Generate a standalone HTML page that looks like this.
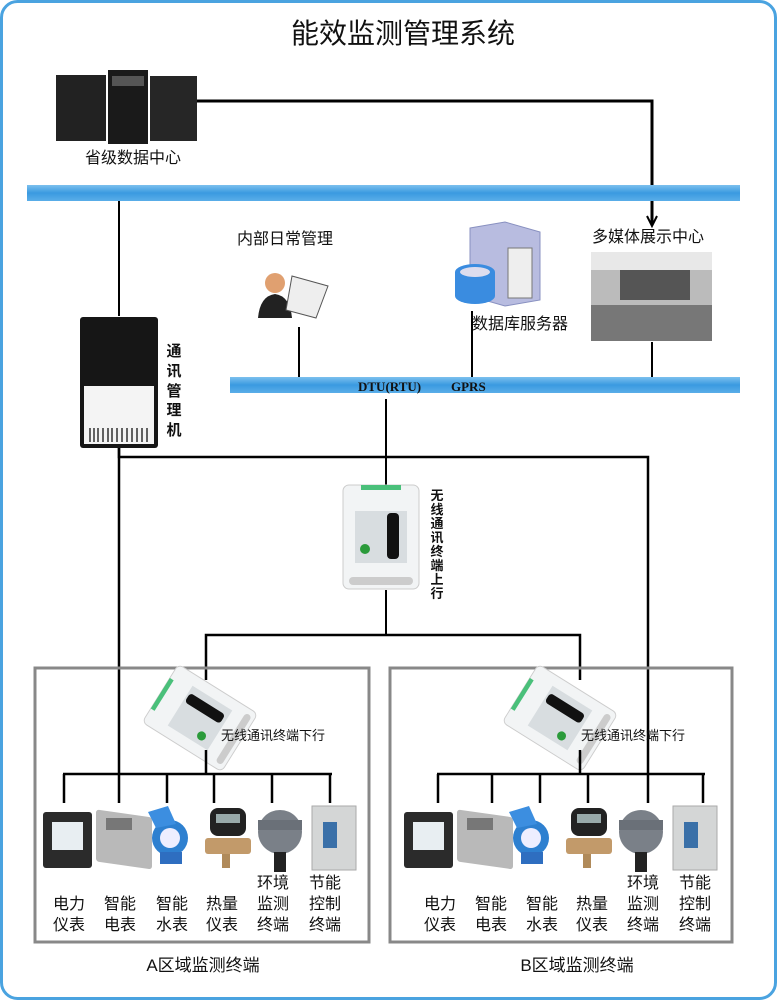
<!DOCTYPE html>
<html><head><meta charset="utf-8"><style>
html,body{margin:0;padding:0;background:#fff;}
svg{display:block;}
text{font-family:"Liberation Sans","Noto Sans CJK SC",sans-serif;fill:#111;}
</style></head><body>
<svg width="777" height="1000" viewBox="0 0 777 1000" xmlns="http://www.w3.org/2000/svg">
<defs>
<linearGradient id="bar" x1="0" y1="0" x2="0" y2="1">
<stop offset="0" stop-color="#7cc0ee"/><stop offset="0.5" stop-color="#3a9ae0"/><stop offset="1" stop-color="#5aaee8"/></linearGradient>
<g id="meters">
 <rect x="43" y="812" width="49" height="56" rx="3" fill="#2b2b2b"/>
 <rect x="52" y="822" width="31" height="28" fill="#e8eef2"/>
 <rect x="96" y="812" width="56" height="52" rx="3" fill="#b9b9b9" transform="skewY(8) translate(0,-16)"/>
 <rect x="106" y="818" width="26" height="12" fill="#777"/>
 <circle cx="170" cy="838" r="18" fill="#2e80d0"/>
 <circle cx="170" cy="838" r="10" fill="#eef"/>
 <path d="M148,812 L168,806 L176,824 L156,828Z" fill="#3c8ee0"/>
 <rect x="160" y="852" width="22" height="12" fill="#2e6ec0"/>
 <rect x="210" y="808" width="36" height="28" rx="8" fill="#222"/>
 <rect x="216" y="814" width="24" height="9" fill="#9aa"/>
 <rect x="205" y="838" width="46" height="16" rx="3" fill="#c29a6a"/>
 <rect x="222" y="854" width="8" height="14" fill="#b08a5a"/>
 <circle cx="280" cy="832" r="22" fill="#7a8088"/>
 <rect x="258" y="820" width="44" height="10" fill="#6a7078"/>
 <rect x="274" y="852" width="12" height="20" fill="#222"/>
 <rect x="312" y="806" width="44" height="64" fill="#d4d6d6" stroke="#aaa"/>
 <rect x="323" y="822" width="14" height="26" fill="#3a70a8"/>
</g>
<g id="dev">
 <rect x="-38" y="-52" width="76" height="104" rx="6" fill="#f2f4f5" stroke="#ccc"/>
 <rect x="-26" y="-26" width="52" height="52" fill="#d8dde0"/>
 <rect x="6" y="-24" width="12" height="46" rx="4" fill="#111"/>
 <rect x="-20" y="-52" width="40" height="5" fill="#4ac07a"/>
 <circle cx="-16" cy="12" r="5" fill="#2a9a3a"/>
 <rect x="-32" y="40" width="64" height="8" rx="4" fill="#ccc"/>
</g>
</defs>
<rect x="1.5" y="1.5" width="774" height="997" rx="16" fill="#fff" stroke="#4aa3e0" stroke-width="3"/>
<text x="403" y="43" font-size="28" text-anchor="middle">能效监测管理系统</text>

<!-- servers -->
<rect x="56" y="75" width="50" height="66" fill="#222"/>
<rect x="150" y="76" width="47" height="65" fill="#262626"/>
<rect x="108" y="70" width="40" height="74" fill="#1a1a1a"/>
<rect x="112" y="76" width="32" height="10" fill="#555"/>
<text x="133" y="163" font-size="16" text-anchor="middle">省级数据中心</text>
<polyline points="197,101 652,101 652,224" fill="none" stroke="#000" stroke-width="3"/>
<polyline points="647,216 652,226 657,216" fill="none" stroke="#000" stroke-width="2"/>

<rect x="27" y="185" width="713" height="16" fill="url(#bar)"/>
<line x1="119" y1="201" x2="119" y2="316" stroke="#000" stroke-width="2"/>

<!-- comm manager -->
<rect x="80" y="317" width="78" height="131" rx="3" fill="#161616"/>
<rect x="84" y="386" width="70" height="58" fill="#f4f4f4"/>
<g stroke="#000" stroke-width="1.2">
<line x1="90" y1="428" x2="90" y2="442"/><line x1="94" y1="428" x2="94" y2="442"/><line x1="98" y1="428" x2="98" y2="442"/><line x1="103" y1="428" x2="103" y2="442"/><line x1="108" y1="428" x2="108" y2="442"/><line x1="112" y1="428" x2="112" y2="442"/><line x1="117" y1="428" x2="117" y2="442"/><line x1="122" y1="428" x2="122" y2="442"/><line x1="127" y1="428" x2="127" y2="442"/><line x1="132" y1="428" x2="132" y2="442"/><line x1="137" y1="428" x2="137" y2="442"/><line x1="142" y1="428" x2="142" y2="442"/><line x1="147" y1="428" x2="147" y2="442"/></g>
<g font-size="15" text-anchor="middle" font-weight="bold"><text x="174" y="356">通</text><text x="174" y="376">讯</text><text x="174" y="396">管</text><text x="174" y="415">理</text><text x="174" y="435">机</text></g>

<text x="285" y="244" font-size="16" text-anchor="middle">内部日常管理</text>
<circle cx="275" cy="283" r="10" fill="#e0a070"/>
<path d="M258,318 Q260,296 275,294 Q290,296 292,318Z" fill="#222"/>
<path d="M292,276 L328,286 L316,318 L286,310Z" fill="#eee" stroke="#555"/>
<line x1="299" y1="327" x2="299" y2="378" stroke="#000" stroke-width="2"/>

<path d="M470,228 L505,222 L540,232 L540,300 L505,306 L470,296Z" fill="#b8bce0" stroke="#8890c0"/>
<rect x="508" y="248" width="24" height="50" fill="#eee" stroke="#777"/>
<ellipse cx="475" cy="272" rx="20" ry="8" fill="#3a8ce0"/>
<rect x="455" y="272" width="40" height="24" fill="#3a8ce0"/>
<ellipse cx="475" cy="296" rx="20" ry="8" fill="#3a8ce0"/>
<ellipse cx="475" cy="272" rx="15" ry="5" fill="#dde"/>
<text x="520" y="329" font-size="16" text-anchor="middle">数据库服务器</text>
<line x1="472" y1="311" x2="472" y2="378" stroke="#000" stroke-width="2"/>

<text x="648" y="242" font-size="16" text-anchor="middle">多媒体展示中心</text>
<rect x="591" y="252" width="121" height="89" fill="#bbb"/>
<rect x="591" y="252" width="121" height="18" fill="#e8e8e8"/>
<rect x="620" y="270" width="70" height="30" fill="#555"/>
<rect x="591" y="305" width="121" height="36" fill="#777"/>
<line x1="652" y1="342" x2="652" y2="378" stroke="#000" stroke-width="2"/>

<rect x="230" y="377" width="510" height="16" fill="url(#bar)"/>
<text x="358" y="391" font-size="13" font-weight="bold" style="font-family:'Liberation Serif',serif">DTU(RTU)</text>
<text x="451" y="391" font-size="13" font-weight="bold" style="font-family:'Liberation Serif',serif">GPRS</text>

<line x1="386" y1="399" x2="386" y2="486" stroke="#000" stroke-width="2"/>
<polyline points="119,448 119,457 648,457 648,803" fill="none" stroke="#000" stroke-width="2.5"/>
<line x1="119" y1="448" x2="119" y2="803" stroke="#000" stroke-width="2.5"/>

<use href="#dev" transform="translate(381,537)"/>
<g font-size="13" text-anchor="middle" font-weight="bold"><text x="437" y="500">无</text><text x="437" y="514">线</text><text x="437" y="528">通</text><text x="437" y="542">讯</text><text x="437" y="556">终</text><text x="437" y="570">端</text><text x="437" y="584">上</text><text x="437" y="598">行</text></g>
<line x1="386" y1="590" x2="386" y2="635" stroke="#000" stroke-width="2"/>
<polyline points="206,680 206,635 580,635 580,680" fill="none" stroke="#000" stroke-width="2.5"/>

<rect x="35" y="668" width="334" height="274" fill="none" stroke="#888" stroke-width="3"/>
<rect x="390" y="668" width="342" height="274" fill="none" stroke="#888" stroke-width="3"/>

<!-- A -->
<use href="#dev" transform="translate(200,718) rotate(-58) scale(0.9)"/>
<text x="273" y="740" font-size="13" text-anchor="middle">无线通讯终端下行</text>
<line x1="206" y1="750" x2="206" y2="774" stroke="#000" stroke-width="2.5"/>
<g stroke="#000" stroke-width="2.5" fill="none"><line x1="63" y1="774" x2="332" y2="774"/>
<line x1="64" y1="774" x2="64" y2="803"/><line x1="167" y1="774" x2="167" y2="803"/><line x1="214" y1="774" x2="214" y2="803"/><line x1="272" y1="774" x2="272" y2="803"/><line x1="330" y1="774" x2="330" y2="803"/></g>
<use href="#meters"/>
<!-- B -->
<use href="#dev" transform="translate(560,718) rotate(-58) scale(0.9)"/>
<text x="633" y="740" font-size="13" text-anchor="middle">无线通讯终端下行</text>
<line x1="580" y1="750" x2="580" y2="774" stroke="#000" stroke-width="2.5"/>
<g stroke="#000" stroke-width="2.5" fill="none"><line x1="437" y1="774" x2="705" y2="774"/>
<line x1="438" y1="774" x2="438" y2="803"/><line x1="492" y1="774" x2="492" y2="803"/><line x1="540" y1="774" x2="540" y2="803"/><line x1="588" y1="774" x2="588" y2="803"/><line x1="703" y1="774" x2="703" y2="803"/></g>
<use href="#meters" transform="translate(361,0)"/>

<g font-size="16" text-anchor="middle">
<text x="69" y="909">电力</text><text x="69" y="930">仪表</text>
<text x="120" y="909">智能</text><text x="120" y="930">电表</text>
<text x="172" y="909">智能</text><text x="172" y="930">水表</text>
<text x="222" y="909">热量</text><text x="222" y="930">仪表</text>
<text x="273" y="888">环境</text><text x="273" y="909">监测</text><text x="273" y="930">终端</text>
<text x="325" y="888">节能</text><text x="325" y="909">控制</text><text x="325" y="930">终端</text>
<text x="440" y="909">电力</text><text x="440" y="930">仪表</text>
<text x="491" y="909">智能</text><text x="491" y="930">电表</text>
<text x="542" y="909">智能</text><text x="542" y="930">水表</text>
<text x="592" y="909">热量</text><text x="592" y="930">仪表</text>
<text x="643" y="888">环境</text><text x="643" y="909">监测</text><text x="643" y="930">终端</text>
<text x="695" y="888">节能</text><text x="695" y="909">控制</text><text x="695" y="930">终端</text>
</g>
<text x="203" y="971" font-size="17" text-anchor="middle">A区域监测终端</text>
<text x="577" y="971" font-size="17" text-anchor="middle">B区域监测终端</text>
</svg>
</body></html>
